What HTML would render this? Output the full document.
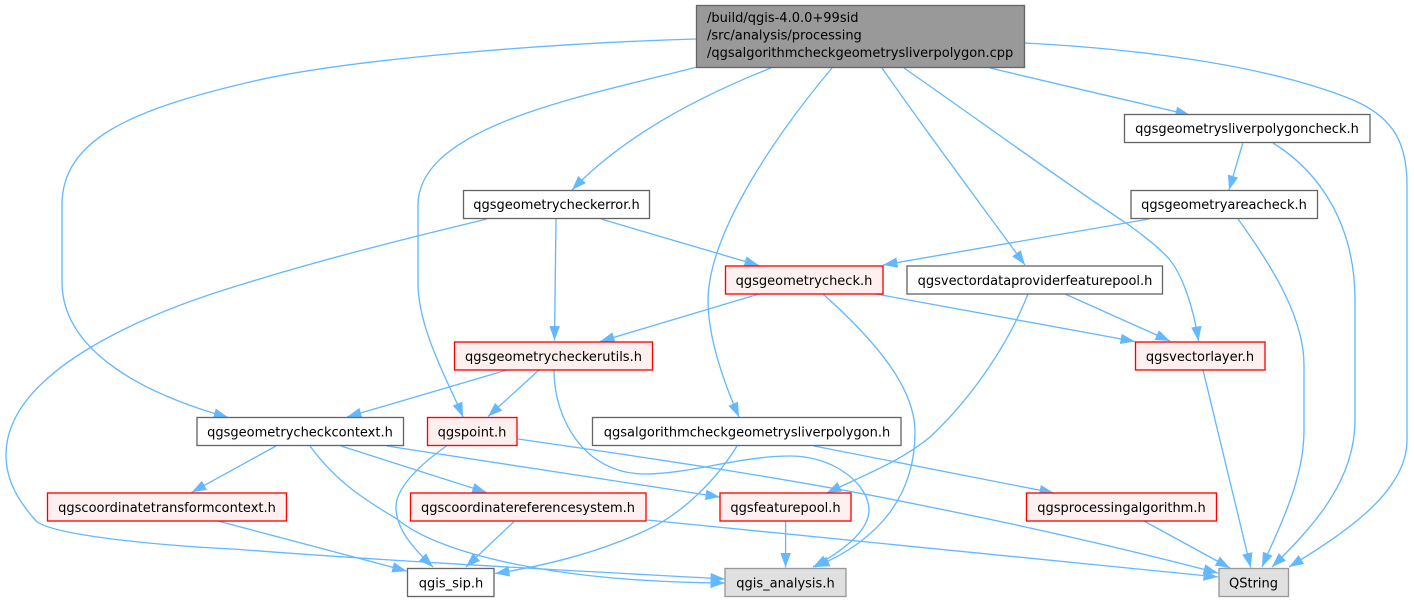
<!DOCTYPE html>
<html><head><meta charset="utf-8"><style>
html,body{margin:0;padding:0;background:#fff}
svg{display:block}
text{font-family:"DejaVu Sans","Liberation Sans",sans-serif;font-size:13px;fill:#000;text-anchor:middle}
.e{fill:none;stroke:#63b8ff;stroke-width:1.33;marker-end:url(#a)}
.w{fill:#fff;stroke:#666;stroke-width:1.33}
.r{fill:#fff0f0;stroke:#f00;stroke-width:1.33}
.g{fill:#e0e0e0;stroke:#999;stroke-width:1.33}
.m{fill:#999;stroke:#666;stroke-width:1.33}
</style></head><body>
<svg width="1414" height="602" viewBox="0 0 1414 602" xmlns="http://www.w3.org/2000/svg">
<defs><marker id="a" markerUnits="userSpaceOnUse" markerWidth="16" markerHeight="12" refX="14.5" refY="6" orient="auto"><path d="M0,0.75 L14.5,6 L0,11.25 z" fill="#63b8ff"/></marker></defs>
<path class="e" d="M696,39 C560,43 350,58 250,82 C130,110 62,140 62,205 L62,282 C62,345 130,390 228.3,417.5"/>
<path class="e" d="M697,67 C590,95 418,125 418,205 L418,283 C418,330 450,385 463,417"/>
<path class="e" d="M771,68 C690,100 620,140 572,190"/>
<path class="e" d="M832,68 C780,130 709,230 708,300 C708,340 725,385 739,417"/>
<path class="e" d="M882,68 C925,130 985,210 1025,265"/>
<path class="e" d="M904,68 C1000,135 1075,190 1126,223 C1140,233 1160,248 1170,260 C1182,275 1193,305 1198.5,341"/>
<path class="e" d="M990,68 C1050,82 1125,100 1190,115"/>
<path class="e" d="M1025,43 C1120,48 1260,62 1353,100 C1395,118 1407,145 1407,185 L1407,440 C1407,490 1350,530 1289,567"/>
<path class="e" d="M1242.7,143.3 L1229,190"/>
<path class="e" d="M1273,143 C1320,172 1355,225 1355,300 L1355,420 C1355,480 1315,525 1272,567"/>
<path class="e" d="M1149,219 L883,265"/>
<path class="e" d="M1238,219 C1275,270 1304,320 1304,365 L1304,430 C1304,480 1280,525 1262,567"/>
<path class="e" d="M601,219 L759,265.5"/>
<path class="e" d="M556,219 L554.5,340.5"/>
<path class="e" d="M487,219 C400,240 320,260 240,285 C150,312 6,370 6,455 C6,482 20,503 36.5,521.5 C55,535 150,545 240,549.5 C400,562 600,572 725,579"/>
<path class="e" d="M759,294 L600,341.5"/>
<path class="e" d="M876,294 L1135,341.5"/>
<path class="e" d="M823,294 C880,345 915,390 915,432 C915,495 880,540 815,567"/>
<path class="e" d="M1065,294 L1170,341"/>
<path class="e" d="M1028,294 C1010,340 975,395 930,437 C900,462 860,477 826.7,493"/>
<path class="e" d="M507,370 L347,417"/>
<path class="e" d="M539,370 L488,416.5"/>
<path class="e" d="M554,370 C554,420 585,474 645,474 C690,474 740,456 790,456 C835,456 869,485 869,510 C869,530 845,550 813,567"/>
<path class="e" d="M276,446 L191.7,492.3"/>
<path class="e" d="M341,446 L486.7,492.5"/>
<path class="e" d="M387,446 L720,497"/>
<path class="e" d="M310,446 C335,480 360,497 397,519 C440,555 560,582 725,583"/>
<path class="e" d="M446.5,446 C415,468 396,490 396,507 C396,530 415,550 433,567"/>
<path class="e" d="M518,439 C650,458 800,480 930,507 C1030,527 1130,550 1218,573"/>
<path class="e" d="M737,446 C715,482 680,515 646.7,530 C600,552 545,566 495,573.5"/>
<path class="e" d="M814,446 L1054,493"/>
<path class="e" d="M218,521 L406.7,571"/>
<path class="e" d="M514,521.5 L466,567"/>
<path class="e" d="M647,520 L1218,577"/>
<path class="e" d="M785.6,521 L785.6,567.5"/>
<path class="e" d="M1144,521 L1230,568"/>
<path class="e" d="M1203,370 L1250.7,567.5"/>

<rect class="m" x="696.5" y="5.5" width="328" height="62"/>
<text x="707" y="22" style="text-anchor:start">/build/qgis-4.0.0+99sid</text>
<text x="707" y="39.5" style="text-anchor:start">/src/analysis/processing</text>
<text x="707" y="57" style="text-anchor:start">/qgsalgorithmcheckgeometrysliverpolygon.cpp</text>

<rect class="w" x="463.5" y="190.5" width="186" height="28"/><text x="556.5" y="209">qgsgeometrycheckerror.h</text>
<rect class="w" x="1124.5" y="114.5" width="245.5" height="28"/><text x="1247" y="133">qgsgeometrysliverpolygoncheck.h</text>
<rect class="w" x="1131" y="190.5" width="186.5" height="28"/><text x="1224" y="209">qgsgeometryareacheck.h</text>
<rect class="r" x="725.5" y="266" width="157.5" height="28"/><text x="804" y="285">qgsgeometrycheck.h</text>
<rect class="w" x="907" y="266" width="255.5" height="28"/><text x="1035" y="285">qgsvectordataproviderfeaturepool.h</text>
<rect class="r" x="454.5" y="342" width="198" height="28"/><text x="553.5" y="361">qgsgeometrycheckerutils.h</text>
<rect class="r" x="1135.5" y="342" width="129.5" height="28"/><text x="1200" y="361">qgsvectorlayer.h</text>
<rect class="w" x="197" y="417.5" width="206.5" height="28"/><text x="300" y="436.5">qgsgeometrycheckcontext.h</text>
<rect class="r" x="427.5" y="417.5" width="89.5" height="28"/><text x="472" y="436.5">qgspoint.h</text>
<rect class="w" x="592.5" y="417.5" width="308.5" height="28"/><text x="747" y="436.5">qgsalgorithmcheckgeometrysliverpolygon.h</text>
<rect class="r" x="47.5" y="493" width="239" height="28"/><text x="167" y="512">qgscoordinatetransformcontext.h</text>
<rect class="r" x="410.5" y="493" width="235.5" height="28"/><text x="528" y="512">qgscoordinatereferencesystem.h</text>
<rect class="r" x="720" y="493" width="131" height="28"/><text x="785.5" y="512">qgsfeaturepool.h</text>
<rect class="r" x="1026.5" y="493" width="190" height="28"/><text x="1121.5" y="512">qgsprocessingalgorithm.h</text>
<rect class="w" x="407.5" y="568.5" width="86.5" height="28"/><text x="451" y="587.5">qgis_sip.h</text>
<rect class="g" x="725" y="568.5" width="121" height="28"/><text x="785.5" y="587.5">qgis_analysis.h</text>
<rect class="g" x="1219" y="568.5" width="69.5" height="28"/><text x="1253.5" y="587.5">QString</text>
</svg>
</body></html>
